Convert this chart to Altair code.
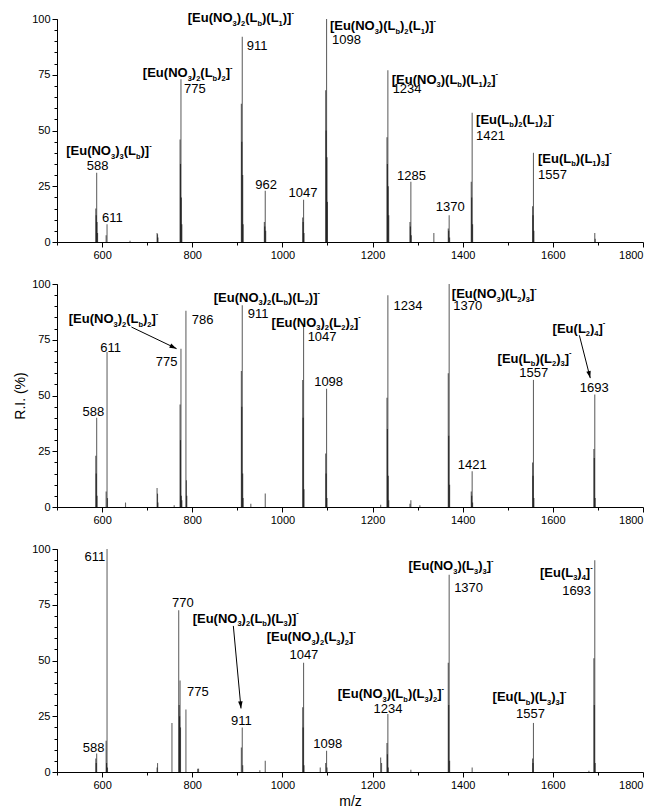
import math
import altair as alt
import pandas as pd

# ---------------- data: stick spectra (m/z, relative intensity %) ----------------
P1_MZ = [586, 587, 588, 589, 590, 609, 611, 662, 722, 723, 724,
         773, 774, 775, 776, 777, 909, 910, 911, 912, 913,
         960, 961, 962, 963, 1045, 1046, 1047, 1048,
         1096, 1097, 1098, 1099, 1100, 1232, 1233, 1234, 1235, 1236,
         1283, 1284, 1285, 1286, 1336, 1368, 1369, 1370, 1371,
         1419, 1420, 1421, 1422, 1555, 1556, 1557, 1558, 1693, 1694]
P1_RI = [15, 12, 31, 9, 4, 3, 8, 0.6, 4, 3.5, 2,
         46, 35, 73, 20, 8, 62, 45, 92, 30, 8,
         9, 7, 23, 5, 11, 9, 19, 4,
         68, 50, 100, 38, 18, 47, 35, 77, 25, 12,
         9, 7, 27, 3, 4, 6, 5, 12, 2,
         27, 20, 58, 8, 16, 12, 40, 5, 4, 1.5]

P2_MZ = [586, 587, 588, 589, 609, 611, 612, 652, 722, 723, 724, 760,
         773, 774, 775, 776, 777, 786, 787, 788,
         909, 910, 911, 912, 913, 930, 962,
         1045, 1046, 1047, 1048, 1096, 1097, 1098, 1099, 1218,
         1232, 1233, 1234, 1235, 1236, 1283, 1285, 1305,
         1368, 1369, 1370, 1371, 1419, 1420, 1421, 1422,
         1555, 1556, 1557, 1558, 1691, 1692, 1693, 1694]
P2_RI = [23, 15, 40, 5, 7, 69.5, 4, 2, 8.5, 6, 2, 0.8,
         46, 30, 71, 5, 3, 88, 12, 5,
         61, 45, 90.5, 15, 4, 1.5, 6,
         57, 40, 81.5, 8, 24, 15, 53, 4, 1,
         49, 35, 95, 14, 3, 1.5, 3, 0.8,
         60, 32, 100, 10, 7, 5, 16, 2,
         20, 14, 57, 4, 26, 22, 50.5, 4]

P3_MZ = [586, 587, 588, 609, 610, 611, 612, 722, 723, 755,
         770, 771, 772, 773, 774, 786, 812, 814,
         909, 911, 912, 950, 962, 1045, 1046, 1047, 1048,
         1084, 1096, 1098, 1099, 1218, 1220, 1232, 1233, 1234, 1235, 1285,
         1368, 1369, 1370, 1371, 1421, 1555, 1556, 1557, 1680,
         1691, 1692, 1693, 1694]
P3_RI = [6, 4, 8.3, 14, 4, 100, 2, 2, 4, 22,
         72.5, 30, 25, 41, 20, 28, 1.5, 1.5,
         11, 20, 3, 0.8, 5, 29, 20, 49, 3,
         2, 4, 9.5, 2, 6.5, 4, 13, 8, 26, 2, 1,
         49, 30, 88.5, 5, 2, 6, 4, 22, 0.6,
         51, 30, 95, 4]

# ---------------- annotations: (text, m/z, RI, align) ----------------
# "_x" = subscript, "^x" = superscript
P1_FORMULAS = [
    ("[Eu(NO_3)_3(L_b)]^-", 520.4, 41, "left"),
    ("[Eu(NO_3)_2(L_b)_2]^-", 690.5, 76, "left"),
    ("[Eu(NO_3)_2(L_b)(L_1)]^-", 790, 100.6, "left"),
    ("[Eu(NO_3)(L_b)_2(L_1)]^-", 1105.4, 97, "left"),
    ("[Eu(NO_3)(L_b)(L_1)_2]^-", 1242.7, 73, "left"),
    ("[Eu(L_b)_2(L_1)_2]^-", 1429.7, 55, "left"),
    ("[Eu(L_b)(L_1)_3]^-", 1567, 37.7, "left"),
]
P1_NUMBERS = [
    ("588", 590, 34.5, "center"), ("611", 600, 11, "left"),
    ("775", 782, 69, "left"), ("911", 921, 88, "left"),
    ("962", 963.7, 26, "center"), ("1047", 1045.7, 22.4, "center"),
    ("1098", 1110.3, 91, "left"), ("1234", 1244.6, 69, "left"),
    ("1285", 1286.4, 30, "center"), ("1370", 1372.3, 16, "center"),
    ("1421", 1429.7, 48, "left"), ("1557", 1567, 30.5, "left"),
]
P1_ARROWS = []

P2_FORMULAS = [
    ("[Eu(NO_3)_2(L_b)_2]^-", 526, 84.5, "left"),
    ("[Eu(NO_3)_2(L_b)(L_2)]^-", 847.7, 94, "left"),
    ("[Eu(NO_3)_2(L_2)_2]^-", 976, 83, "left"),
    ("[Eu(NO_3)(L_2)_3]^-", 1375.9, 95.7, "left"),
    ("[Eu(L_2)_4]^-", 1599.5, 80.3, "left"),
    ("[Eu(L_b)(L_2)_3]^-", 1477.4, 66.8, "left"),
]
P2_NUMBERS = [
    ("588", 580.5, 43, "center"), ("611", 596, 71.7, "left"),
    ("775", 767.1, 65.3, "right"), ("786", 798.9, 84, "left"),
    ("911", 923.3, 86.7, "left"), ("1047", 1056, 76.7, "left"),
    ("1098", 1070.5, 56.4, "left"), ("1234", 1246.7, 90.4, "left"),
    ("1370", 1379, 90.4, "left"), ("1421", 1421, 19, "center"),
    ("1557", 1557.5, 60.5, "center"), ("1693", 1692, 53.8, "center"),
]
P2_ARROWS = [(665.1, 80.7, 765.3, 71), (1658.8, 77, 1683, 57.8)]

P3_FORMULAS = [
    ("[Eu(NO_3)_2(L_b)(L_3)]^-", 800.9, 69, "left"),
    ("[Eu(NO_3)_2(L_3)_2]^-", 965.1, 60.7, "left"),
    ("[Eu(NO_3)(L_b)(L_3)_2]^-", 1240.7, 35.2, "center"),
    ("[Eu(NO_3)(L_3)_3]^-", 1374, 92.5, "center"),
    ("[Eu(L_3)_4]^-", 1688.3, 89.5, "right"),
    ("[Eu(L_b)(L_3)_3]^-", 1548.3, 33.7, "center"),
]
P3_NUMBERS = [
    ("611", 608.9, 96.7, "right"), ("588", 581, 11, "center"),
    ("770", 779, 76, "center"), ("775", 788.4, 36, "left"),
    ("911", 910, 23.3, "center"), ("1047", 1047.7, 52.9, "center"),
    ("1098", 1100.4, 12.8, "center"), ("1234", 1234.3, 28.5, "center"),
    ("1370", 1381, 83, "left"), ("1693", 1684.8, 81.7, "right"),
    ("1557", 1550.6, 26.3, "center"),
]
P3_ARROWS = [(891.2, 65.5, 908.2, 28.5)]

X_TICKS = [600, 800, 1000, 1200, 1400, 1600, 1800]
X_MINOR = [500, 700, 900, 1100, 1300, 1500, 1700]
Y_TICKS = [0, 25, 50, 75, 100]
Y_MINOR = list(range(0, 101, 5))

# ---------------- layout / style ----------------
W, H = 586, 223
XDOM, YDOM = [500, 1800], [0, 100]
KX = (XDOM[1] - XDOM[0]) / W   # data units per pixel
KY = (YDOM[1] - YDOM[0]) / H
FONT = "Liberation Sans"
FS_MAIN, FS_SMALL = 13, 7.5
BOLD_W = {"[": 333, "]": 333, "(": 333, ")": 333, "E": 667, "u": 611, "N": 722,
          "O": 778, "L": 611, "b": 611, "-": 333}


def width(s, size):
    return sum(BOLD_W.get(c, 556) for c in s) * size / 1000.0


def parse(s):
    segs, buf, i = [], "", 0
    while i < len(s):
        c = s[i]
        if c in "_^":
            if buf:
                segs.append((buf, "main"))
                buf = ""
            segs.append((s[i + 1], "sub" if c == "_" else "sup"))
            i += 2
            continue
        buf += c
        i += 1
    if buf:
        segs.append((buf, "main"))
    return segs


YOFF = {"main": 4.6, "sub": 8.0, "sup": -2.8}


def formula_rows(items):
    rows = []
    for text, mz, ri, align in items:
        segs = parse(text)
        sizes = [FS_MAIN if k == "main" else FS_SMALL for _, k in segs]
        total = sum(width(t, fs) for (t, _), fs in zip(segs, sizes))
        start = {"left": 0, "center": -total / 2, "right": -total}[align]
        off = start
        for (t, k), fs in zip(segs, sizes):
            rows.append(dict(mz=mz, ri=ri, text=t, xoff=off, yoff=YOFF[k], fs=fs))
            off += width(t, fs)
    return pd.DataFrame(rows)


def number_rows(items):
    rows = []
    for text, mz, ri, align in items:
        w = len(text) * 0.556 * FS_MAIN
        off = {"left": 0, "center": -w / 2, "right": -w}[align]
        rows.append(dict(mz=mz, ri=ri, text=text, xoff=off, yoff=4.7))
    return pd.DataFrame(rows)


def arrow_rows(items):
    rows = []
    for x1, y1, x2, y2 in items:
        dx = (x2 - x1) / KX
        dy = -(y2 - y1) / KY
        ang = math.degrees(math.atan2(dx, -dy)) % 360
        rows.append(dict(x=x1, y=y1, x2=x2, y2=y2, angle=ang))
    return pd.DataFrame(rows, columns=["x", "y", "x2", "y2", "angle"])


def panel(mz, ri, formulas, numbers, arrows, ytitle, xtitle):
    sticks = pd.DataFrame({"mz": mz, "ri": ri})
    xs = alt.Scale(domain=XDOM, nice=False, zero=False)
    ys = alt.Scale(domain=YDOM, nice=False)

    minor = alt.Chart(sticks).mark_rule(opacity=0).encode(
        x=alt.X("mz:Q", scale=xs, axis=alt.Axis(values=X_MINOR, labels=False, domain=False,
                                                 grid=False, tickSize=3, tickColor="black",
                                                 title=None, orient="bottom")),
        y=alt.Y("ri:Q", scale=ys, axis=alt.Axis(values=Y_MINOR, labels=False, domain=False,
                                                 grid=False, tickSize=3, tickColor="black",
                                                 title=None, orient="left")),
    )
    xaxis = dict(values=X_TICKS, grid=False, tickSize=5, tickColor="black", domainColor="black",
                 labelColor="black", labelFontSize=11, labelFont=FONT, orient="bottom", format="d",
                 titleFont=FONT, titleFontSize=14, titleFontWeight="normal", titleColor="black",
                 titlePadding=4)
    yaxis = dict(values=Y_TICKS, grid=False, tickSize=5, tickColor="black", domainColor="black",
                 labelColor="black", labelFontSize=11, labelFont=FONT, orient="left", format="d",
                 titleFont=FONT, titleFontSize=14, titleFontWeight="normal", titleColor="black",
                 titlePadding=4)
    xaxis["title"] = xtitle if xtitle else None
    yaxis["title"] = ytitle if ytitle else None

    lines = alt.Chart(sticks).mark_rule(color="black", strokeWidth=1.1, opacity=0.6).encode(
        x=alt.X("mz:Q", scale=xs, axis=alt.Axis(**xaxis)),
        y=alt.Y("ri:Q", scale=ys, axis=alt.Axis(**yaxis)),
        y2=alt.datum(0),
    )
    layers = [minor, lines]

    adf = arrow_rows(arrows)
    if len(adf):
        layers.append(alt.Chart(adf).mark_rule(color="black", strokeWidth=1).encode(
            x=alt.X("x:Q", scale=xs, axis=None), y=alt.Y("y:Q", scale=ys, axis=None),
            x2="x2:Q", y2="y2:Q"))
        layers.append(alt.Chart(adf).mark_point(
            shape="M0,0L-0.32,1L0.32,1Z", filled=True, color="black", opacity=1, size=200,
            strokeWidth=0).encode(
            x=alt.X("x2:Q", scale=xs, axis=None), y=alt.Y("y2:Q", scale=ys, axis=None),
            angle=alt.Angle("angle:Q", scale=None)))

    # text anchors: pixel offsets converted to data units through the panel's scale factors
    calc = dict(tx=f"datum.mz + datum.xoff * {KX}", ty=f"datum.ri - datum.yoff * {KY}")
    layers.append(alt.Chart(number_rows(numbers)).transform_calculate(**calc).mark_text(
        align="left", baseline="alphabetic", font=FONT, fontSize=FS_MAIN, color="black").encode(
        x=alt.X("tx:Q", scale=xs, axis=None), y=alt.Y("ty:Q", scale=ys, axis=None),
        text="text:N"))
    layers.append(alt.Chart(formula_rows(formulas)).transform_calculate(**calc).mark_text(
        align="left", baseline="alphabetic", font=FONT, fontWeight="bold", color="black").encode(
        x=alt.X("tx:Q", scale=xs, axis=None), y=alt.Y("ty:Q", scale=ys, axis=None),
        size=alt.Size("fs:Q", scale=None), text="text:N"))

    return alt.layer(*layers).resolve_axis(x="independent", y="independent").properties(
        width=W, height=H)


p1 = panel(P1_MZ, P1_RI, P1_FORMULAS, P1_NUMBERS, P1_ARROWS, None, None)
p2 = panel(P2_MZ, P2_RI, P2_FORMULAS, P2_NUMBERS, P2_ARROWS, "R.I. (%)", None)
p3 = panel(P3_MZ, P3_RI, P3_FORMULAS, P3_NUMBERS, P3_ARROWS, None, "m/z")

chart = alt.vconcat(p1, p2, p3, spacing=42, bounds="flush").properties(
    padding={"left": 5, "top": 0, "right": 0, "bottom": 0},
    background="white",
).configure_view(strokeWidth=0)

chart.save("out.html", embed_options={"renderer": "svg", "actions": False})
